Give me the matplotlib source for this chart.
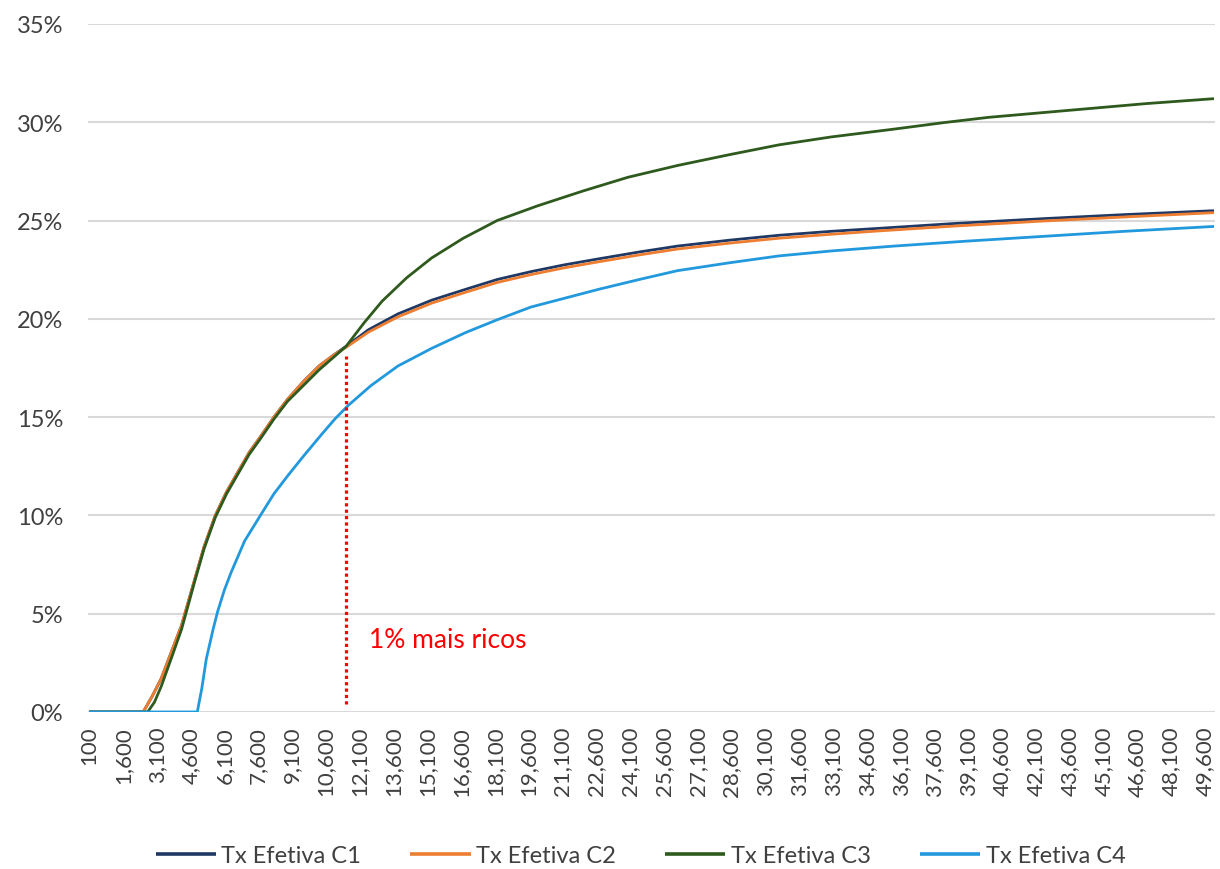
import matplotlib
matplotlib.use("Agg")
import matplotlib.pyplot as plt
from matplotlib.ticker import FuncFormatter

# ---- data (income level, effective tax rate %) ----
c1_x = [100, 2500, 2900, 3300, 3800, 4200, 4800, 5200, 5700, 6200, 6700, 7200, 7700,
        8300, 8900, 9600, 10300, 11000, 11500, 12500, 13800, 15300, 16800, 18200,
        19700, 21200, 22700, 24500, 26200, 28500, 30700, 33000, 35100, 38500,
        42500, 46000, 50000]
c1_y = [0, 0, 0.8, 1.7, 3.2, 4.4, 6.8, 8.4, 10.0, 11.2, 12.2, 13.2, 14.0,
        15.0, 15.9, 16.8, 17.6, 18.2, 18.6, 19.45, 20.25, 20.95, 21.5, 22.0,
        22.4, 22.75, 23.05, 23.4, 23.7, 24.0, 24.25, 24.45, 24.6, 24.85,
        25.1, 25.3, 25.5]

c2_x = [100, 2500, 2900, 3300, 3800, 4200, 4800, 5200, 5700, 6200, 6700, 7200, 7700,
        8300, 8900, 9600, 10300, 11000, 11500, 12500, 13800, 15300, 16800, 18200,
        19700, 21200, 22700, 24500, 26200, 28500, 30700, 33000, 35100, 38500,
        42500, 46000, 50000]
c2_y = [0, 0, 0.8, 1.7, 3.2, 4.4, 6.8, 8.4, 10.0, 11.2, 12.2, 13.2, 14.0,
        15.0, 15.9, 16.8, 17.6, 18.2, 18.55, 19.33, 20.1, 20.8, 21.35, 21.85,
        22.25, 22.6, 22.9, 23.25, 23.55, 23.85, 24.1, 24.3, 24.47, 24.72,
        24.98, 25.18, 25.4]

c3_x = [100, 2700, 3000, 3300, 3800, 4200, 4800, 5200, 5700, 6200, 6700, 7200, 7700,
        8300, 8900, 9600, 10300, 11000, 11500, 12300, 13100, 14200, 15300, 16700,
        18200, 20000, 22000, 24000, 26200, 28500, 30700, 33000, 35800, 38000,
        40000, 44000, 47000, 50000]
c3_y = [0, 0, 0.5, 1.3, 2.9, 4.2, 6.7, 8.3, 9.9, 11.1, 12.1, 13.1, 13.9,
        14.9, 15.8, 16.6, 17.4, 18.1, 18.6, 19.8, 20.9, 22.1, 23.1, 24.1,
        25.0, 25.75, 26.5, 27.2, 27.8, 28.35, 28.85, 29.25, 29.65, 29.98,
        30.25, 30.65, 30.95, 31.2]

c4_x = [100, 4900, 5100, 5300, 5600, 5800, 6100, 6400, 7000, 7700, 8300, 8900, 9600,
        10400, 11000, 11600, 12600, 13800, 15300, 16800, 18200, 19700, 21200,
        22700, 24500, 26200, 28500, 30700, 33000, 35800, 39000, 42500, 46000, 50000]
c4_y = [0, 0, 1.2, 2.7, 4.2, 5.1, 6.2, 7.1, 8.7, 10.0, 11.1, 12.0, 13.0,
        14.1, 14.9, 15.6, 16.6, 17.6, 18.5, 19.3, 19.95, 20.6, 21.05,
        21.5, 22.0, 22.45, 22.85, 23.2, 23.45, 23.7, 23.95, 24.2, 24.45, 24.7]

series_labels = ["Tx Efetiva C1", "Tx Efetiva C2", "Tx Efetiva C3", "Tx Efetiva C4"]
series_colors = ["#1F3864", "#ED7D31", "#2F5A1E", "#2299DD"]

xtick_values = list(range(100, 50000, 1500))
ytick_values = [0, 5, 10, 15, 20, 25, 30, 35]

marker_x = 11500
marker_y = [0.4, 18.1]
annot_text = "1% mais ricos"
annot_x = 12500
annot_y = 3.7

# ---- plot ----
plt.rcParams['font.family'] = ['Lato', 'DejaVu Sans']
fig = plt.figure(figsize=(12.2, 8.7), dpi=100)
ax = fig.add_axes([0.0721, 0.1805, 0.9239, 0.7908])

for xs, ys, lab, col in zip([c1_x, c2_x, c3_x, c4_x], [c1_y, c2_y, c3_y, c4_y],
                            series_labels, series_colors):
    ax.plot(xs, ys, color=col, lw=2.0, label=lab, solid_capstyle='butt',
            solid_joinstyle='round')

ax.plot([marker_x, marker_x], marker_y, color="#FF0000", lw=2.3, linestyle=(0, (1, 1)))
ax.text(annot_x, annot_y, annot_text, color="#FF0000", fontsize=19, va='center', ha='left')

ax.set_xlim(50, 50050)
ax.set_ylim(0, 35)
ax.set_yticks(ytick_values)
ax.yaxis.set_major_formatter(FuncFormatter(lambda v, p: f"{int(v)}%"))
ax.set_xticks(xtick_values)
ax.set_xticklabels([f"{v:,}" for v in xtick_values], rotation=90)
ax.tick_params(axis='both', length=0, colors="#404040")
ax.tick_params(axis='y', labelsize=17, pad=18)
ax.tick_params(axis='x', labelsize=16, pad=10)
ax.grid(axis='y', color="#D9D9D9", lw=1.5)
ax.set_axisbelow(True)
for s in ax.spines.values():
    s.set_visible(False)

leg = fig.legend(loc='center', bbox_to_anchor=(0.525, 0.015), ncol=4, frameon=False,
                 fontsize=17, handlelength=2.55, handletextpad=0.22, columnspacing=2.1)
for t in leg.get_texts():
    t.set_color("#404040")
for h in leg.get_lines():
    h.set_linewidth(2.6)

fig.savefig("out.png", dpi=100)
